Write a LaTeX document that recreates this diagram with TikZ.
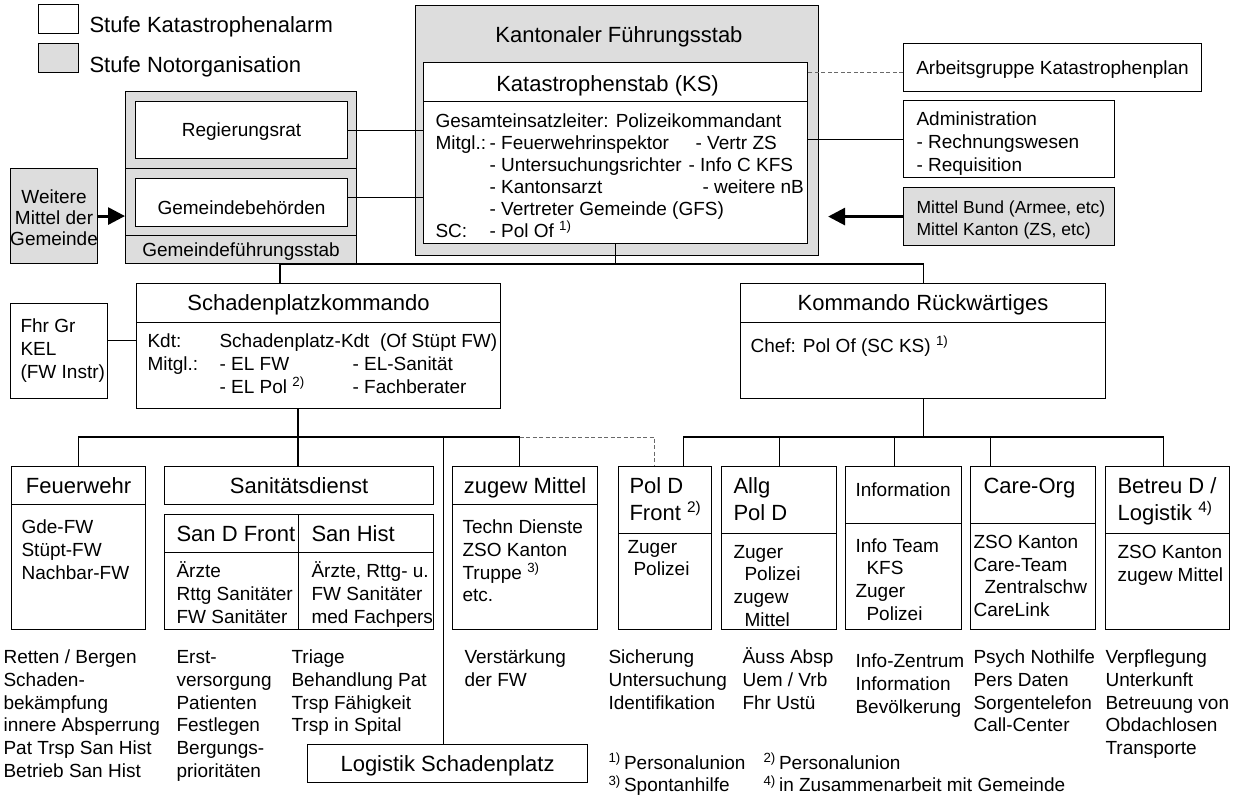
\documentclass[tikz,border=0pt]{standalone}
\usepackage{fontspec}
\setmainfont{Liberation Sans}
\usetikzlibrary{arrows.meta}
\definecolor{notgray}{RGB}{221,221,221}
\definecolor{dashgray}{RGB}{105,105,105}
\tikzset{
  wh/.style 2 args={minimum width=#1pt, minimum height=#2pt},
  box/.style={draw, fill=white, inner sep=0pt, anchor=north west},
  gbox/.style={box, fill=notgray},
  lbl/.style={font=\fontsize{19}{23}\selectfont, text height=13.6pt, text depth=0pt},
  tlbl/.style={font=\fontsize{22}{26}\selectfont, text height=15.8pt, text depth=0pt},
  ttl/.style={tlbl, inner sep=0pt},
  txt/.style={font=\fontsize{19}{23}\selectfont, inner sep=0pt, anchor=base west},
  ttxt/.style={txt, font=\fontsize{22}{26}\selectfont},
  stxt/.style={txt, font=\fontsize{17.5}{21}\selectfont},
  fat/.style={line width=3pt, -{Triangle[length=17pt, width=17pt]}},
  dline/.style={dashgray, line width=1pt, dash pattern=on 4pt off 2.5pt},
}
\begin{document}
\begin{tikzpicture}[x=1pt, y=-1pt, line width=1.1pt]
\useasboundingbox (0,0) rectangle (1234,796);

% Legende
\node[box, wh={40}{29}] (legw) at (38,4) {};
\node[ttxt] (legwt) at (89,32) {Stufe Katastrophenalarm};
\node[gbox, wh={40}{29}] (legg) at (38,43) {};
\node[ttxt] (leggt) at (89,72) {Stufe Notorganisation};

% Gemeinde
\node[gbox, wh={231}{77}] (grr) at (125,91) {};
\node[gbox, wh={231}{67}] (ggb) at (125,168) {};
\node[gbox, lbl, wh={231}{28}] (gfs) at (125,235) {Gemeindeführungsstab};
\node[box, lbl, wh={212}{57}] (regr) at (135,101) {Regierungsrat};
\node[box, wh={212}{48}] (gemb) at (135,178) {};
\node[lbl, inner sep=0pt] (gembt) at ([yshift=-5pt]gemb.center) {Gemeindebehörden};
\node[gbox, wh={87}{95}] (wm) at (10,168) {};
\foreach \t [count=\i from 0] in {Weitere, Mittel der, Gemeinde}
  \node[lbl, inner sep=0pt] (wm\i) at ([yshift={-29pt-21*\i*1pt}]wm.north) {\t};

% Kantonaler Fuehrungsstab
\node[gbox, wh={403}{250}] (kfs) at (415,5) {};
\node[ttl] (kfst) at (619,35) {Kantonaler Führungsstab};
\node[box, wh={384}{39}] (ksT) at (423,62) {};
\node[ttl] (kst) at ([xshift=-8pt, yshift=-2pt]ksT.center) {Katastrophenstab (KS)};
\node[box, wh={384}{142}] (ksB) at (423,101) {};
\node[txt] (ks1) at (435,127) {Gesamteinsatzleiter: Polizeikommandant};
\node[txt] (ks2) at (435,149) {Mitgl.:};
\node[txt] (ks3) at (435,237) {SC:};
\foreach \t [count=\i from 0] in {- Feuerwehrinspektor, - Untersuchungsrichter, - Kantonsarzt, - Vertreter Gemeinde (GFS), - Pol Of \textsuperscript{1)}}
  \node[txt] (ksm\i) at (489,{149+22*\i}) {\t};
\node[txt] (ksr1) at (695,149) {- Vertr ZS};
\node[txt] (ksr2) at (688,171) {- Info C KFS};
\node[txt] (ksr3) at (702,193) {- weitere nB};

\node[box, lbl, wh={298}{48}] (ag) at (903,43) {Arbeitsgruppe Katastrophenplan};
\node[box, wh={211}{77}] (adm) at (903,100) {};
\foreach \t [count=\i from 0] in {Administration, - Rechnungswesen, - Requisition}
  \node[txt] (adm\i) at (916,{125+23*\i}) {\t};
\node[gbox, wh={211}{58}] (mb) at (903,187) {};
\node[stxt] (mb1) at (916,213) {Mittel Bund (Armee, etc)};
\node[stxt] (mb2) at (916,235) {Mittel Kanton (ZS, etc)};

% Kommandos
\node[box, wh={364}{39}] (spkT) at (136,283) {};
\node[ttl] (spkt) at ([xshift=-10pt]spkT.center) {Schadenplatzkommando};
\node[box, wh={364}{86}] (spkB) at (136,322) {};
\node[txt] (kdt) at (147,347) {Kdt:};
\node[txt] (kdtn) at (219,347) {Schadenplatz-Kdt\ \ (Of Stüpt FW)};
\node[txt] (spkm) at (147,370) {Mitgl.:};
\node[txt] (spk1) at (219,370) {- EL FW};
\node[txt] (spk2) at (352,370) {- EL-Sanität};
\node[txt] (spk3) at (219,393) {- EL Pol \textsuperscript{2)}};
\node[txt] (spk4) at (352,393) {- Fachberater};
\node[box, wh={97}{95}] (fhr) at (10,303) {};
\foreach \t [count=\i from 0] in {Fhr Gr, KEL, (FW Instr)}
  \node[txt] (fhr\i) at (20,{332+23.3*\i}) {\t};
\node[box, tlbl, wh={365}{39}] (krT) at (740,283) {Kommando Rückwärtiges};
\node[box, wh={365}{76}] (krB) at (740,322) {};
\node[txt] (chef) at (750,352) {Chef: Pol Of (SC KS) \textsuperscript{1)}};

% Dienste
\node[box, tlbl, wh={134}{38}] (fwT) at (11,466) {Feuerwehr};
\node[box, wh={134}{125}] (fwB) at (11,504) {};
\node[box, tlbl, wh={269}{38}] (sanT) at (164,466) {Sanitätsdienst};
\node[box, wh={134}{38}] (sdT) at (164,514) {};
\node[box, wh={135}{38}] (shT) at (298,514) {};
\node[box, wh={134}{77}] (sdB) at (164,552) {};
\node[box, wh={135}{77}] (shB) at (298,552) {};
\node[box, tlbl, wh={145}{38}] (zmT) at (452,466) {zugew Mittel};
\node[box, wh={145}{125}] (zmB) at (452,504) {};
\node[box, wh={93}{67}] (pdT) at (618,466) {};
\node[box, wh={93}{96}] (pdB) at (618,533) {};
\node[box, wh={115}{67}] (apT) at (721,466) {};
\node[box, wh={115}{96}] (apB) at (721,533) {};
\node[box, wh={116}{57}] (infT) at (845,466) {};
\node[box, wh={116}{106}] (infB) at (845,523) {};
\node[box, wh={125}{57}] (carT) at (970,466) {};
\node[box, wh={125}{106}] (carB) at (970,523) {};
\node[box, wh={124}{67}] (betT) at (1105,466) {};
\node[box, wh={124}{96}] (betB) at (1105,533) {};
\node[box, tlbl, wh={280}{38}] (lsp) at (307,744) {Logistik Schadenplatz};

\node[ttxt] (sdt) at (176,541) {San D Front};
\node[ttxt] (sht) at (311,541) {San Hist};
\node[ttxt] (pdt1) at (629,493) {Pol D};
\node[ttxt] (pdt2) at (629,520) {Front \textsuperscript{2)}};
\node[ttxt] (apt1) at (733,493) {Allg};
\node[ttxt] (apt2) at (733,520) {Pol D};
\node[txt] (inft) at (855,496) {Information};
\node[ttxt] (cart) at (983,493) {Care-Org};
\node[ttxt] (bett1) at (1117,493) {Betreu D /};
\node[ttxt] (bett2) at (1117,520) {Logistik \textsuperscript{4)}};

\foreach \t [count=\i from 0] in {Gde-FW, Stüpt-FW, Nachbar-FW}
  \node[txt] (fw\i) at (21,{533.5+22.8*\i}) {\t};
\foreach \t [count=\i from 0] in {Ärzte, Rttg Sanitäter, FW Sanitäter}
  \node[txt] (sd\i) at (176,{577+23*\i}) {\t};
\foreach \t [count=\i from 0] in {{Ärzte, Rttg- u.}, FW Sanitäter, med Fachpers}
  \node[txt] (sh\i) at (311,{577+23*\i}) {\t};
\foreach \t [count=\i from 0] in {Techn Dienste, ZSO Kanton, Truppe \textsuperscript{3)}, etc.}
  \node[txt] (zm\i) at (462,{533.5+22.8*\i}) {\t};
\foreach \x/\t [count=\i from 0] in {627/Zuger, 633/Polizei}
  \node[txt] (pd\i) at (\x,{553+22*\i}) {\t};
\foreach \x/\t [count=\i from 0] in {733/Zuger, 744/Polizei, 733/zugew, 744/Mittel}
  \node[txt] (ap\i) at (\x,{558+22.8*\i}) {\t};
\foreach \x/\t [count=\i from 0] in {855/Info Team, 866/KFS, 855/Zuger, 866/Polizei}
  \node[txt] (inf\i) at (\x,{552+22.7*\i}) {\t};
\foreach \x/\t [count=\i from 0] in {973/ZSO Kanton, 973/Care-Team, 984/Zentralschw, 973/CareLink}
  \node[txt] (car\i) at (\x,{548.5+22.7*\i}) {\t};
\foreach \t [count=\i from 0] in {ZSO Kanton, zugew Mittel}
  \node[txt] (bet\i) at (1117,{558.3+22.7*\i}) {\t};

% Aufgaben
\foreach \t [count=\i from 0] in {Retten / Bergen, Schaden-, bekämpfung, innere Absperrung, Pat Trsp San Hist, Betrieb San Hist}
  \node[txt] (afw\i) at (3,{663.5+22.8*\i}) {\t};
\foreach \t [count=\i from 0] in {Erst-, versorgung, Patienten, Festlegen, Bergungs-, prioritäten}
  \node[txt] (asd\i) at (176,{663.5+22.8*\i}) {\t};
\foreach \t [count=\i from 0] in {Triage, Behandlung Pat, Trsp Fähigkeit, Trsp in Spital}
  \node[txt] (ash\i) at (291,{663.5+22.8*\i}) {\t};
\foreach \t [count=\i from 0] in {Verstärkung, der FW}
  \node[txt] (azm\i) at (464,{663.5+22.8*\i}) {\t};
\foreach \t [count=\i from 0] in {Sicherung, Untersuchung, Identifikation}
  \node[txt] (apd\i) at (608,{663.5+22.8*\i}) {\t};
\foreach \t [count=\i from 0] in {Äuss Absp, Uem / Vrb, Fhr Ustü}
  \node[txt] (aap\i) at (742,{663.5+22.8*\i}) {\t};
\foreach \t [count=\i from 0] in {Info-Zentrum, Information, Bevölkerung}
  \node[txt] (ainf\i) at (855,{667.3+23*\i}) {\t};
\foreach \t [count=\i from 0] in {Psych Nothilfe, Pers Daten, Sorgentelefon, Call-Center}
  \node[txt] (acar\i) at (973,{663.5+22.8*\i}) {\t};
\foreach \t [count=\i from 0] in {Verpflegung, Unterkunft, Betreuung von, Obdachlosen, Transporte}
  \node[txt] (abet\i) at (1105,{663.5+22.8*\i}) {\t};

% Fussnoten
\node[txt] (fn1) at (608,769) {\textsuperscript{1)}\,Personalunion};
\node[txt] (fn3) at (608,791.5) {\textsuperscript{3)}\,Spontanhilfe};
\node[txt] (fn2) at (763,769) {\textsuperscript{2)}\,Personalunion};
\node[txt] (fn4) at (763,791.5) {\textsuperscript{4)}\,in Zusammenarbeit mit Gemeinde};

% Verbindungen
\draw (regr.east) -- (regr.east -| ksB.west);
\draw ([yshift=5pt]gemb.east) -- ([yshift=5pt]gemb.east -| ksB.west);
\draw[dline] ([yshift=-5pt]ag.west) -- ([yshift=-5pt]ag.west -| ksB.east);
\draw (adm.west) -- (adm.west -| ksB.east);
\draw[fat] (mb.west) -- ([xshift=9pt]mb.west -| kfs.east);
\draw[fat] (wm.east) -- (wm.east -| ggb.west);
\coordinate (jt) at (280,264);
\draw (jt |- gfs.south) -- (jt |- spkT.north);
\draw (jt) -| (krT.north);
\draw (ksB.south) -- (ksB.south |- jt);
\draw (fhr.east |- kdt) -- (spkB.west |- kdt);

\coordinate (jl) at (298,437);
\coordinate (jr) at (922,437);
\draw (fwT.north) |- ([xshift=-5.5pt]zmT.north |- jl) -- ([xshift=-5.5pt]zmT.north);
\draw (spkB.south -| jl) -- (jl |- sanT.north);
\draw ([xshift=-4pt]lsp.north) -- ([xshift=-4pt]lsp.north |- jl);
\draw[dline] ([xshift=-5.5pt]zmT.north |- jl) -| ([xshift=-10.5pt]pdT.north);
\draw (krB.south) -- (krB.south |- jr);
\draw ([xshift=18.5pt]pdT.north) |- ([xshift=-4pt]betT.north |- jr) -- ([xshift=-4pt]betT.north);
\draw (apT.north) -- (apT.north |- jr);
\draw ([xshift=-9pt]infT.north) -- ([xshift=-9pt]infT.north |- jr);
\draw ([xshift=-42.5pt]carT.north) -- ([xshift=-42.5pt]carT.north |- jr);
\end{tikzpicture}
\end{document}
